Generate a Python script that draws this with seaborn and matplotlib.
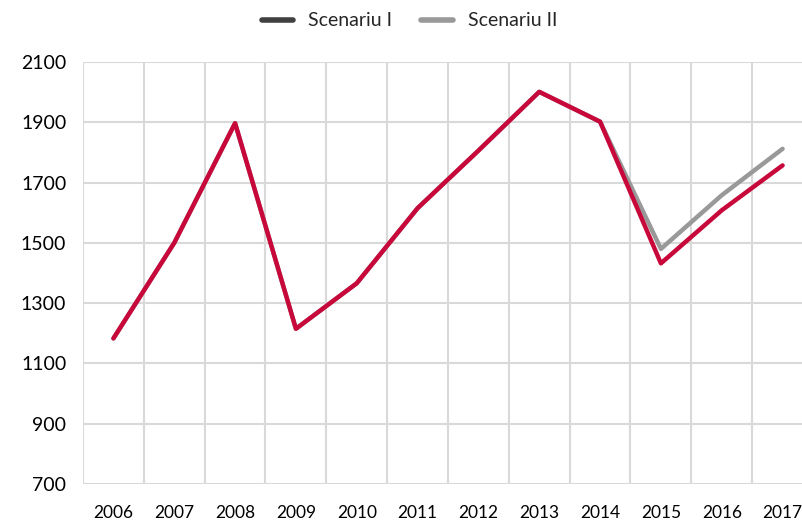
import numpy as np
import pandas as pd
import matplotlib.pyplot as plt
import seaborn as sns
from matplotlib.lines import Line2D

# date
ani = ["2006", "2007", "2008", "2009", "2010", "2011",
       "2012", "2013", "2014", "2015", "2016", "2017"]
scenariu_1 = [1183, 1500, 1897, 1215, 1366, 1615, 1806, 2001, 1902, 1432, 1608, 1757]
scenariu_2 = [1183, 1500, 1897, 1215, 1366, 1615, 1806, 2001, 1902, 1480, 1658, 1812]

df = pd.DataFrame({
    "an": list(range(len(ani))) * 2,
    "valoare": scenariu_1 + scenariu_2,
    "scenariu": ["Scenariu I"] * len(ani) + ["Scenariu II"] * len(ani),
})

sns.set_style("white")
plt.rcParams["font.family"] = ["Lato", "DejaVu Sans"]

fig = plt.figure(figsize=(8.03, 5.21), dpi=100)
ax = fig.add_axes([83 / 803, 37 / 521, 730 / 803, 422 / 521])

# Scenariu II desenat primul (in spate)
sns.lineplot(data=df, x="an", y="valoare", hue="scenariu",
             hue_order=["Scenariu II", "Scenariu I"],
             palette={"Scenariu I": "#C8073A", "Scenariu II": "#999999"},
             linewidth=3.2, ax=ax, legend=False, sort=False)

ax.set_xlim(-0.5, 11.5)
ax.set_ylim(700, 2100)
ax.set_yticks(np.arange(700, 2101, 200))
ax.set_xticks(range(len(ani)))
ax.set_xticklabels(ani)
ax.set_xticks(np.arange(-0.5, 11.5, 1), minor=True)
ax.set_xlabel("")
ax.set_ylabel("")

grid_c = "#D9D9D9"
ax.grid(True, axis="y", color=grid_c, linewidth=1.5)
ax.grid(True, axis="x", which="minor", color=grid_c, linewidth=1.5)
ax.grid(False, axis="x", which="major")
ax.set_axisbelow(True)
for s in ax.spines.values():
    s.set_visible(False)

ax.tick_params(axis="y", length=8, width=1.5, color=grid_c, labelsize=14,
               pad=4, labelcolor="#000000")
ax.tick_params(axis="x", which="major", length=0, labelsize=12.5, pad=15,
               labelcolor="#000000")
ax.tick_params(axis="x", which="minor", length=6, width=1.5, color=grid_c)

handles = [Line2D([], [], color="#404040", linewidth=4),
           Line2D([], [], color="#999999", linewidth=4)]
fig.legend(handles, ["Scenariu I", "Scenariu II"], loc="center",
           bbox_to_anchor=(0.51, 0.96), ncol=2, frameon=False,
           fontsize=14, handlelength=1.6, columnspacing=1.5, handletextpad=0.8)

fig.savefig("out.png", dpi=100)
